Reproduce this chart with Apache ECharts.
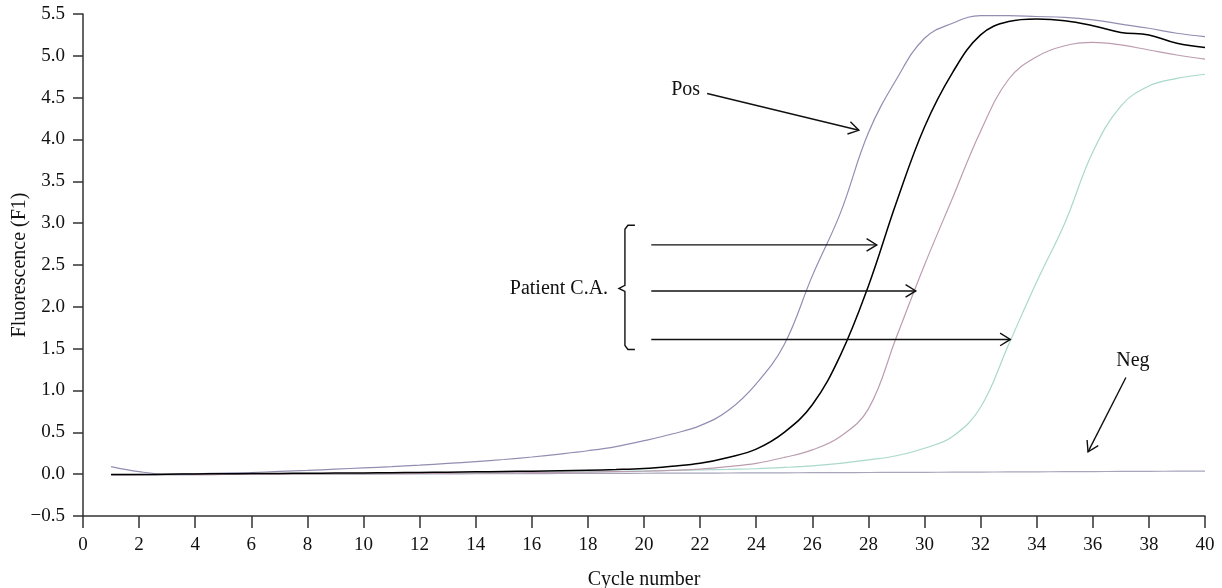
<!DOCTYPE html>
<html>
<head>
<meta charset="utf-8">
<script src="https://cdn.jsdelivr.net/npm/echarts@6/dist/echarts.min.js"></script>
<style>
html,body{margin:0;padding:0;background:#fff;}
#chart{width:1222px;height:588px;}
</style>
</head>
<body>
<div id="chart"></div>
<script>
// cycles 1..40
var cycles = [];
for (var i = 1; i <= 40; i++) cycles.push(i);

var posVals = [0.09,0.03,0.0,0.005,0.012,0.02,0.033,0.045,0.06,0.075,0.09,0.108,0.128,0.15,0.175,0.205,0.24,0.28,0.33,0.4,0.48,0.58,0.76,1.08,1.55,2.37,3.12,4.08,4.72,5.21,5.39,5.48,5.48,5.47,5.46,5.43,5.38,5.33,5.27,5.23];
var patient1 = [-0.005,-0.005,0,0.002,0.005,0.007,0.009,0.011,0.013,0.015,0.018,0.021,0.024,0.028,0.032,0.036,0.041,0.047,0.055,0.068,0.095,0.13,0.2,0.3,0.5,0.83,1.42,2.25,3.25,4.15,4.8,5.25,5.41,5.44,5.42,5.36,5.28,5.25,5.15,5.1];
var patient2 = [-0.008,-0.008,-0.006,-0.005,-0.004,-0.003,-0.002,0,0.002,0.004,0.006,0.008,0.01,0.012,0.015,0.018,0.021,0.025,0.03,0.035,0.045,0.06,0.09,0.13,0.2,0.29,0.45,0.78,1.64,2.5,3.3,4.1,4.72,4.99,5.12,5.16,5.13,5.07,5.01,4.96];
var patient3 = [-0.006,-0.006,-0.005,-0.004,-0.003,-0.002,0,0.002,0.004,0.006,0.008,0.01,0.012,0.015,0.018,0.021,0.025,0.029,0.034,0.04,0.045,0.05,0.057,0.065,0.08,0.1,0.13,0.17,0.22,0.31,0.45,0.8,1.55,2.3,3.0,3.85,4.4,4.64,4.73,4.78];
var negVals = [-0.008,-0.007,-0.006,-0.005,-0.004,-0.003,-0.002,-0.001,0,0.001,0.002,0.003,0.004,0.005,0.006,0.007,0.008,0.009,0.01,0.011,0.012,0.013,0.014,0.015,0.016,0.018,0.019,0.02,0.021,0.022,0.024,0.025,0.027,0.028,0.03,0.031,0.033,0.034,0.036,0.037];

var FONT = 'Liberation Serif';

function pairs(vals){
  return cycles.map(function(c, i){ return [c, vals[i]]; });
}

function lineSeries(name, vals, color, width){
  return {
    name: name,
    type: 'line',
    data: pairs(vals),
    showSymbol: false,
    smooth: 0.4,
    lineStyle: { color: color, width: width },
    z: width > 1.3 ? 3 : 2,
    animation: false
  };
}

var myChart = echarts.init(document.getElementById('chart'));
var option = {
  animation: false,
  grid: { left: 83, right: 17, top: 14, bottom: 72, containLabel: false, outerBoundsMode: 'none' },
  xAxis: {
    type: 'value',
    min: 0, max: 40, interval: 2,
    name: 'Cycle number',
    nameLocation: 'middle',
    nameGap: 54,
    nameMoveOverlap: false,
    nameTextStyle: { fontFamily: FONT, fontSize: 20, color: '#111' },
    axisLine: { onZero: false, lineStyle: { color: '#333', width: 1.5 } },
    axisTick: { length: 12, lineStyle: { color: '#333', width: 1.5 } },
    axisLabel: { fontFamily: FONT, fontSize: 19, color: '#111', margin: 20 },
    splitLine: { show: false }
  },
  yAxis: {
    type: 'value',
    min: -0.5, max: 5.5, interval: 0.5,
    name: 'Fluorescence (F1)',
    nameLocation: 'middle',
    nameGap: 53,
    nameMoveOverlap: false,
    nameTextStyle: { fontFamily: FONT, fontSize: 20, color: '#111' },
    axisLine: { show: true, onZero: false, lineStyle: { color: '#333', width: 1.5 } },
    axisTick: { show: true, length: 10, lineStyle: { color: '#333', width: 1.5 } },
    axisLabel: {
      fontFamily: FONT, fontSize: 19, color: '#111', margin: 18,
      formatter: function(v){ return v.toFixed(1).replace('-', '\u2212'); }
    },
    splitLine: { show: false }
  },
  series: [
    lineSeries('Neg', negVals, '#a6a5ba', 1.2),
    lineSeries('Patient 3', patient3, '#aad8cc', 1.2),
    lineSeries('Patient 2', patient2, '#bc9db0', 1.2),
    lineSeries('Pos', posVals, '#918eb2', 1.2),
    lineSeries('Patient 1', patient1, '#000000', 1.5)
  ]
};
myChart.setOption(option);

// annotations in data coordinates
var arrows = [
  [[22.25, 4.55], [27.66, 4.11]],
  [[20.26, 2.74], [28.3, 2.74]],
  [[20.26, 2.19], [29.69, 2.19]],
  [[20.26, 1.61], [33.06, 1.61]],
  [[37.18, 1.155], [35.83, 0.266]]
];
var labels = [
  { text: 'Pos', at: [22.0, 4.6], align: 'right' },
  { text: 'Patient C.A.', at: [18.72, 2.22], align: 'right' },
  { text: 'Neg', at: [37.43, 1.35], align: 'center' }
];

function px(p){ return myChart.convertToPixel({ gridIndex: 0 }, p); }

var els = [];
arrows.forEach(function(a){
  var s = px(a[0]), e = px(a[1]);
  var ang = Math.atan2(e[1] - s[1], e[0] - s[0]);
  var L = 12, h = 0.55;
  var p1 = [e[0] - L * Math.cos(ang - h), e[1] - L * Math.sin(ang - h)];
  var p2 = [e[0] - L * Math.cos(ang + h), e[1] - L * Math.sin(ang + h)];
  els.push({ type: 'line', shape: { x1: s[0], y1: s[1], x2: e[0], y2: e[1] },
    style: { stroke: '#111', lineWidth: 1.4 }, z: 10 });
  els.push({ type: 'polyline', shape: { points: [p1, e, p2] },
    style: { stroke: '#111', lineWidth: 1.4, fill: null }, z: 10 });
});

// bracket for the patient arrows
var bTop = px([19.32, 2.975]), bBot = px([19.32, 1.49]), bMid = px([19.32, 2.22]);
els.push({ type: 'polyline',
  shape: { points: [[bTop[0] + 10, bTop[1]], [bTop[0] + 3, bTop[1]], [bTop[0], bTop[1] + 4], [bMid[0], bMid[1] - 3], [bMid[0] - 6, bMid[1]], [bMid[0], bMid[1] + 3], [bBot[0], bBot[1] - 4], [bBot[0] + 3, bBot[1]], [bBot[0] + 10, bBot[1]]] },
  style: { stroke: '#111', lineWidth: 1.4, fill: null }, z: 10 });

labels.forEach(function(l){
  var p = px(l.at);
  els.push({ type: 'text', x: p[0], y: p[1], z: 10,
    style: { text: l.text, fontFamily: FONT, fontSize: 20, fill: '#111',
      align: l.align, verticalAlign: 'middle' } });
});

myChart.setOption({ graphic: { elements: els } });
</script>
</body>
</html>
